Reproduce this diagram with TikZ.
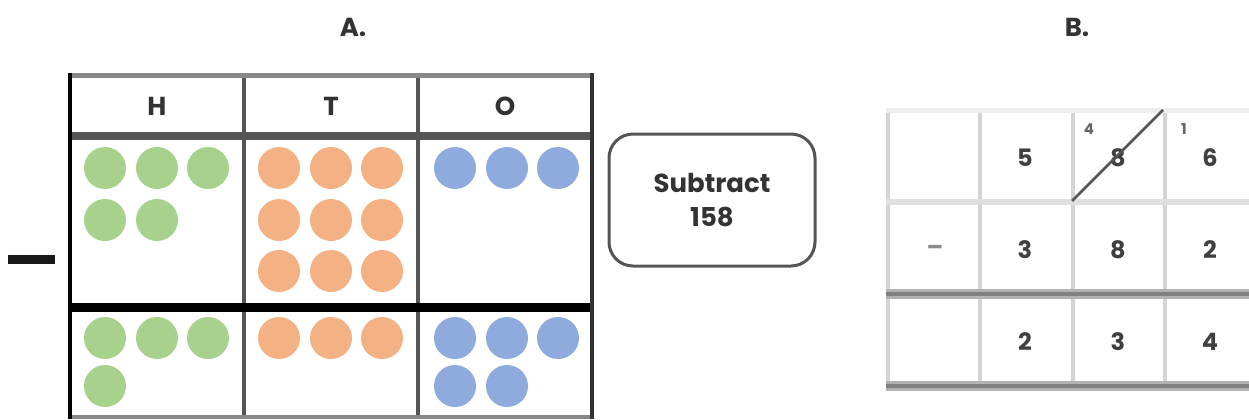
\documentclass[tikz,border=0pt]{standalone}
\usepackage{fontspec}
\setmainfont{Poppins}
\definecolor{cgreen}{HTML}{A9D18E}
\definecolor{corange}{HTML}{F4B183}
\definecolor{cblue}{HTML}{8FAADC}
\definecolor{lgray}{HTML}{D4D4D4}
\definecolor{mgray}{HTML}{888888}
\definecolor{dgray}{HTML}{555555}
\tikzset{
  lbl/.style={inner sep=0pt, font=\fontsize{13}{13}\selectfont\bfseries, text=black!80},
  num/.style={inner sep=0pt, font=\fontsize{12}{12}\selectfont\bfseries, text=black!75},
  supnum/.style={inner sep=0pt, font=\fontsize{7.5}{7.5}\selectfont\bfseries, text=black!60},
  gdot/.style={fill=cgreen},
  odot/.style={fill=corange},
  bdot/.style={fill=cblue},
}
\begin{document}
\begin{tikzpicture}[x=0.5pt,y=-0.5pt]
\useasboundingbox (0,0) rectangle (1249,419);
\fill[white] (0,0) rectangle (1249,419);

% titles
\node[lbl] (tA) at (353,27) {A.};
\node[lbl] (tB) at (1077,27) {B.};

% minus sign
\fill[black!90] (8,255) rectangle (55,264);

% ---------- Table A ----------
\foreach \cx in {105,157,208}{\fill[gdot] (\cx,168) circle[radius=10.5pt];}
\foreach \cx in {105,157}{\fill[gdot] (\cx,220) circle[radius=10.5pt];}
\foreach \cy in {168,220,271}{\foreach \cx in {279,331,382}{\fill[odot] (\cx,\cy) circle[radius=10.5pt];}}
\foreach \cx in {455,507,558}{\fill[bdot] (\cx,168) circle[radius=10.5pt];}
\foreach \cx in {105,157,208}{\fill[gdot] (\cx,338) circle[radius=10.5pt];}
\fill[gdot] (105,386) circle[radius=10.5pt];
\foreach \cx in {279,331,382}{\fill[odot] (\cx,338) circle[radius=10.5pt];}
\foreach \cx in {455,507,558}{\fill[bdot] (\cx,338) circle[radius=10.5pt];}
\foreach \cx in {455,507}{\fill[bdot] (\cx,386) circle[radius=10.5pt];}

% grid lines
\draw[dgray, line width=2pt] (244,73) -- (244,419);
\draw[dgray, line width=2pt] (418,73) -- (418,419);
\draw[mgray, line width=2.5pt] (68,75) -- (594,75);
\draw[mgray, line width=2pt] (68,417) -- (594,417);
\draw[dgray, line width=4pt] (68,136) -- (594,136);
\draw[black, line width=4.5pt] (68,307) -- (594,307);
\draw[black, line width=2pt] (70,73) -- (70,419);
\draw[black!80, line width=2pt] (592,73) -- (592,419);

\node[lbl] (hH) at (157,106) {H};
\node[lbl] (hT) at (331,106) {T};
\node[lbl] (hO) at (505,106) {O};

% Subtract box
\node[draw=dgray, line width=1.5pt, rounded corners=12pt, minimum width=103pt, minimum height=66pt,
      inner sep=0pt, align=center, font=\fontsize{13}{17}\selectfont\bfseries, text=black!80] (sub) at (712,200) {Subtract\\158};

% ---------- Table B ----------
\foreach \vx in {888,980,1073,1165}{\draw[lgray, line width=2pt] (\vx,108) -- (\vx,390);}
\draw[black!7, line width=2.5pt] (886,110) -- (1249,110);
\draw[black!12, line width=3pt] (886,202) -- (1249,202);
\draw[black!30, line width=5pt] (886,294) -- (1249,294);
\draw[black!50, line width=2pt] (886,294) -- (1249,294);
\draw[black!30, line width=5pt] (886,386) -- (1249,386);
\draw[black!50, line width=2pt] (886,386) -- (1249,386);

\node[num] (b11) at (1025,158) {5};
\node[num] (b12) at (1118,158) {8};
\node[num] (b13) at (1210,158) {6};
\node[supnum] (s12) at (1089,129) {4};
\node[supnum] (s13) at (1184,129) {1};
\coordinate (slA) at (1072,201);
\coordinate (slB) at (1163,110);
\draw[dgray, line width=1.3pt] (slA) -- (slB);

\node[num, text=black!45] (bm) at (935,250) {–};
\node[num] (b21) at (1025,250) {3};
\node[num] (b22) at (1118,250) {8};
\node[num] (b23) at (1210,250) {2};

\node[num] (b31) at (1025,342) {2};
\node[num] (b32) at (1118,342) {3};
\node[num] (b33) at (1210,342) {4};
\end{tikzpicture}
\end{document}
